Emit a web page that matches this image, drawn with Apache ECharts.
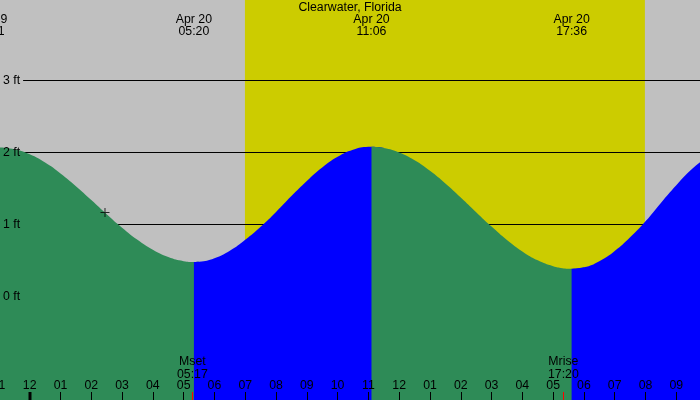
<!DOCTYPE html>
<html><head><meta charset="utf-8">
<script src="https://cdn.jsdelivr.net/npm/echarts@6/dist/echarts.min.js"></script>
<style>html,body{margin:0;padding:0;background:#c0c0c0}#c{width:700px;height:400px}</style>
</head><body><div id="c"></div>
<script>
// ---- data (times in hours from midnight Apr 20, heights in ft) ----
const chartTitle = 'Clearwater, Florida';
const viewStart = -0.965, viewEnd = 21.77;
const heightMin = -1.4375, heightMax = 4.1181;
const hourTicks = [-1,0,1,2,3,4,5,6,7,8,9,10,11,12,13,14,15,16,17,18,19,20,21];
const heightTicks = [0, 1, 2, 3];
const gridLevels = [1, 2, 3];
const sunTimes = [6.99, 19.98];           // sunrise, sunset
const tideTimes = [-1.317, 5.333, 11.1, 17.6];
const tideDates = ['Apr 19', 'Apr 20', 'Apr 20', 'Apr 20'];
const tideClock = ['22:41', '05:20', '11:06', '17:36'];
const moonTimes = [5.283, 17.333];
const moonNames = ['Mset', 'Mrise'];
const moonClock = ['05:17', '17:20'];
const nowMark = [[2.445, 1.167]];

// falling tide (green)
const fallA = [[-1.0,2.07],[-0.5,2.046],[0,1.974],[0.5,1.860],[1.0,1.710],[1.5,1.533],[2.0,1.341],[2.5,1.144],[3.0,0.956],[3.5,0.787],[4.0,0.648],[4.5,0.547],[5.0,0.491],[5.333,0.48]];
// rising tide (blue)
const riseB = [[5.333,0.48],[5.5,0.483],[6.0,0.532],[6.5,0.636],[7.0,0.788],[7.5,0.968],[8.0,1.175],[8.5,1.395],[9.0,1.605],[9.5,1.792],[10.0,1.940],[10.5,2.038],[11.0,2.079],[11.1,2.08]];
// falling tide (green)
const fallC = [[11.1,2.08],[11.5,2.064],[12.0,2.001],[12.5,1.893],[13.0,1.747],[13.5,1.571],[14.0,1.375],[14.5,1.171],[15.0,0.971],[15.5,0.785],[16.0,0.626],[16.5,0.502],[17.0,0.420],[17.3,0.394],[17.6,0.385]];
// rising tide (blue)
const riseD = [[17.6,0.385],[18.0,0.405],[18.5,0.490],[19.0,0.632],[19.5,0.822],[20.0,1.045],[20.5,1.300],[21.0,1.545],[21.5,1.766],[22.0,1.936]];

const FONT = 'Liberation Sans';
const FS = 12.3;
const pad2 = n => (n < 10 ? '0' : '') + n;
const hourLabel = v => { const h = ((Math.round(v) % 12) + 12) % 12; return h === 0 ? '12' : pad2(h); };
const visibleHours = hourTicks.filter(v => v >= viewStart && v <= viewEnd);

const chart = echarts.init(document.getElementById('c'), null, {renderer: 'canvas'});
// each segment runs one sample into the next one (which is drawn over it) so no seam shows
const areaSeries = (data, next, color) => ({
  type: 'line', data: next ? data.concat([next[1]]) : data, smooth: true, showSymbol: false, silent: true, z: 2,
  lineStyle: {width: 0}, areaStyle: {color, opacity: 1, origin: 'start'}
});

chart.setOption({
  animation: false,
  backgroundColor: '#c0c0c0',
  title: {text: chartTitle, left: 'center', top: 1, padding: 0,
    textStyle: {fontSize: FS, fontWeight: 'normal', color: '#000', fontFamily: FONT, lineHeight: 13}},
  grid: {left: 0, right: 0, top: 0, bottom: 0, containLabel: false, outerBoundsMode: 'none'},
  xAxis: {
    type: 'value', min: viewStart, max: viewEnd, z: 10,
    axisLine: {show: false, onZero: false}, splitLine: {show: false},
    axisTick: {show: true, inside: true, length: 8, customValues: visibleHours, lineStyle: {color: '#000', width: 1}},
    axisLabel: {inside: true, margin: 8, customValues: visibleHours, formatter: hourLabel,
      color: '#000', fontSize: FS, fontFamily: FONT, lineHeight: 13}
  },
  yAxis: {
    type: 'value', min: heightMin, max: heightMax, z: 10,
    axisLine: {show: false, onZero: false}, axisTick: {show: false}, splitLine: {show: false},
    axisLabel: {inside: true, margin: 0, customValues: heightTicks,
      formatter: v => (v === 3 ? '{bg|' : '{n|') + v + ' ft}',
      rich: {
        bg: {backgroundColor: '#c0c0c0', padding: [1, 3, 1, 3], color: '#000', fontSize: FS, fontFamily: FONT},
        n: {padding: [1, 3, 1, 3], color: '#000', fontSize: FS, fontFamily: FONT}
      }}
  },
  series: [
    {type: 'line', data: [], z: 1, silent: true,
      markArea: {silent: true, z: 1, itemStyle: {color: '#cccc00'},
        data: [[{xAxis: sunTimes[0]}, {xAxis: sunTimes[1]}]]}},
    {type: 'line', data: [], z: 1.5, silent: true,
      markLine: {silent: true, z: 1.5, symbol: ['none', 'none'], label: {show: false},
        lineStyle: {color: '#000', width: 1, type: 'solid'},
        data: gridLevels.map(v => ({yAxis: v}))}},
    areaSeries(fallA, riseB, '#2e8b57'),
    areaSeries(riseB, fallC, '#0000ff'),
    areaSeries(fallC, riseD, '#2e8b57'),
    areaSeries(riseD, null, '#0000ff'),
    {type: 'scatter', data: nowMark, z: 5, silent: true, symbolSize: 9,
      symbol: 'path://M4,0h1v9h-1zM0,4h9v1h-9z', itemStyle: {color: '#000'}}
  ]
});

const px = t => chart.convertToPixel({xAxisIndex: 0}, t);
const txt = (text, x, y) => ({type: 'text', x, y, z: 100, silent: true,
  style: {text, fill: '#000', fontSize: FS, fontFamily: FONT, align: 'center', verticalAlign: 'middle'}});
const g = [];
tideTimes.forEach((t, i) => { const x = px(t); g.push(txt(tideDates[i], x, 19.7)); g.push(txt(tideClock[i], x, 31.3)); });
moonTimes.forEach((t, i) => {
  const x = px(t);
  g.push(txt(moonNames[i], x, 361.7)); g.push(txt(moonClock[i], x, 374.2));
  const xr = Math.round(x) + 0.5;
  g.push({type: 'line', z: 100, silent: true, shape: {x1: xr, y1: 392, x2: xr, y2: 400}, style: {stroke: '#ff0000', lineWidth: 1}});
});
const x0 = px(0);
g.push({type: 'rect', z: 100, silent: true, shape: {x: Math.round(x0) - 1.5, y: 392, width: 3, height: 8}, style: {fill: '#000'}});
g.push(txt(hourLabel(hourTicks[0]), px(hourTicks[0]), 385.3));
chart.setOption({graphic: g});
</script></body></html>
